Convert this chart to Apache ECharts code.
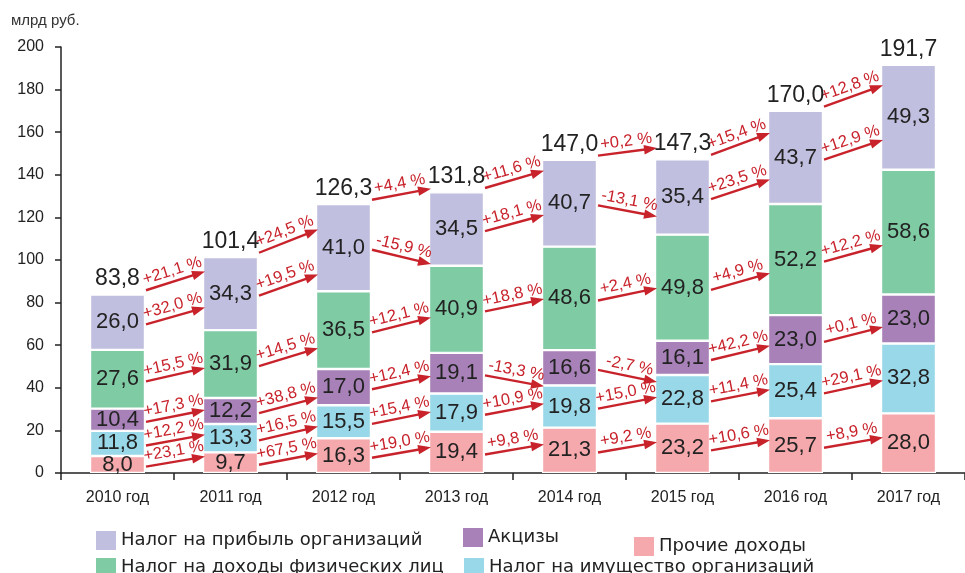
<!DOCTYPE html>
<html>
<head>
<meta charset="utf-8">
<script src="https://cdn.jsdelivr.net/npm/echarts@6/dist/echarts.min.js"></script>
<style>
html,body{margin:0;padding:0;background:#fff;}
#chart{width:965px;height:573px;}
</style>
</head>
<body>
<div id="chart"></div>
<script>
// ---- data ----
const years = ['2010 год', '2011 год', '2012 год', '2013 год', '2014 год', '2015 год', '2016 год', '2017 год'];
const profitTax = [26.0, 34.3, 41.0, 34.5, 40.7, 35.4, 43.7, 49.3];
const personalIncomeTax = [27.6, 31.9, 36.5, 40.9, 48.6, 49.8, 52.2, 58.6];
const excises = [10.4, 12.2, 17.0, 19.1, 16.6, 16.1, 23.0, 23.0];
const propertyTax = [11.8, 13.3, 15.5, 17.9, 19.8, 22.8, 25.4, 32.8];
const otherIncome = [8.0, 9.7, 16.3, 19.4, 21.3, 23.2, 25.7, 28.0];
const totals = [83.8, 101.4, 126.3, 131.8, 147.0, 147.3, 170.0, 191.7];

const totalGrowth = [21.1, 24.5, 4.4, 11.6, 0.2, 15.4, 12.8];
const profitGrowth = [32.0, 19.5, -15.9, 18.1, -13.1, 23.5, 12.9];
const pitGrowth = [15.5, 14.5, 12.1, 18.8, 2.4, 4.9, 12.2];
const exciseGrowth = [17.3, 38.8, 12.4, -13.3, -2.7, 42.2, 0.1];
const propertyGrowth = [12.2, 16.5, 15.4, 10.9, 15.0, 11.4, 29.1];
const otherGrowth = [23.1, 67.5, 19.0, 9.8, 9.2, 10.6, 8.9];

const seriesNames = ['Прочие доходы', 'Налог на имущество организаций', 'Акцизы', 'Налог на доходы физических лиц', 'Налог на прибыль организаций'];
const yMin = 0, yMax = 200, yInterval = 20;

// ---- styles ----
const colors = ['#F5A9AD', '#99D8E8', '#A781B7', '#7FCBA4', '#C1BFDF'];
const RED = '#C8222B';
const BAR_W = 55;
const NUM_FONT = 'Liberation Sans, Arial, sans-serif';
const TXT_FONT = 'DejaVu Sans, sans-serif';

const fmt = v => v.toFixed(1).replace('.', ',');
const fmtPct = v => (v < 0 ? '-' : '+') + Math.abs(v).toFixed(1).replace('.', ',') + ' %';

const stackValues = [otherIncome, propertyTax, excises, personalIncomeTax, profitTax];
const stackGrowth = [otherGrowth, propertyGrowth, exciseGrowth, pitGrowth, profitGrowth];

// arrows: [catIndex, startValue, endValue], with labels
const arrowData = [];
const arrowLabels = [];
for (let s = 0; s < stackValues.length; s++) {
  const centers = years.map((_, i) => {
    let base = 0;
    for (let k = 0; k < s; k++) base += stackValues[k][i];
    return base + stackValues[s][i] / 2;
  });
  for (let i = 0; i < years.length - 1; i++) {
    const g = stackGrowth[s][i];
    const dir = g < 0 ? -1 : 1;
    const a = centers[i] - 1;
    const rise = Math.min(0.25 * Math.abs(centers[i + 1] - centers[i]) + 4.5, 10);
    arrowData.push([i, a, a + dir * rise]);
    arrowLabels.push(fmtPct(g));
  }
}
for (let i = 0; i < years.length - 1; i++) {
  const g = totalGrowth[i];
  const dir = g < 0 ? -1 : 1;
  const a = totals[i] + 2;
  const rise = Math.min(0.3 * Math.abs(totals[i + 1] - totals[i]) + 3.5, 11);
  arrowData.push([i, a, a + dir * rise]);
  arrowLabels.push(fmtPct(g));
}

const barSeries = seriesNames.map((name, s) => ({
  name: name,
  type: 'bar',
  stack: 'total',
  barWidth: BAR_W,
  data: stackValues[s],
  itemStyle: { color: colors[s], borderColor: '#fff', borderWidth: 1.2 },
  label: {
    show: true, position: 'inside', color: '#222',
    fontFamily: NUM_FONT, fontSize: 22,
    formatter: p => fmt(p.value)
  },
  emphasis: { disabled: true },
  z: 2
}));

const arrowSeries = {
  type: 'custom',
  name: 'arrows',
  data: arrowData,
  z: 5,
  silent: true,
  renderItem: function (params, api) {
    const i = api.value(0), a = api.value(1), b = api.value(2);
    const p1 = api.coord([i, a]);
    const p2 = api.coord([i + 1, b]);
    const half = BAR_W / 2;
    const x1 = p1[0] + half + 1, y1 = p1[1];
    const x2 = p2[0] - half + 2, y2 = p2[1];
    const ang = Math.atan2(y2 - y1, x2 - x1);
    const c = Math.cos(ang), sn = Math.sin(ang);
    const hl = 13, hw = 4.8;
    const bx = x2 - hl * c, by = y2 - hl * sn;
    const mx = (x1 + x2) / 2, my = (y1 + y2) / 2;
    return {
      type: 'group',
      children: [
        { type: 'line', shape: { x1: x1, y1: y1, x2: bx + c, y2: by + sn }, style: { stroke: RED, lineWidth: 2.4 } },
        { type: 'polygon', shape: { points: [[x2, y2], [bx + hw * sn, by - hw * c], [bx - hw * sn, by + hw * c]] }, style: { fill: RED } },
        { type: 'text', x: mx, y: my, rotation: -ang,
          style: { text: arrowLabels[params.dataIndex], x: 0, y: -2, align: 'center', verticalAlign: 'bottom',
                   fill: RED, fontSize: 16.5, fontFamily: NUM_FONT } }
      ]
    };
  }
};

const totalSeries = {
  type: 'custom',
  name: 'totals',
  data: totals.map((t, i) => [i, t]),
  z: 6,
  silent: true,
  renderItem: function (params, api) {
    const p = api.coord([api.value(0), api.value(1)]);
    return {
      type: 'text', x: p[0], y: p[1] - 4,
      style: { text: fmt(api.value(1)), align: 'center', verticalAlign: 'bottom',
               fill: '#222', fontSize: 23, fontFamily: NUM_FONT }
    };
  }
};

function legendAt(name, left, top) {
  return {
    data: [name], left: left, top: top, orient: 'horizontal',
    itemWidth: 20, itemHeight: 19, icon: 'rect', selectedMode: false,
    textStyle: { fontFamily: TXT_FONT, fontSize: 18, color: '#222' },
    itemStyle: { borderWidth: 0 }
  };
}

const chart = echarts.init(document.getElementById('chart'), null, { renderer: 'canvas' });
chart.setOption({
  animation: false,
  backgroundColor: '#fff',
  title: {
    text: 'млрд руб.', left: 6, top: 8,
    textStyle: { fontFamily: NUM_FONT, fontSize: 15, fontWeight: 'normal', color: '#333' }
  },
  legend: [
    legendAt(seriesNames[4], 91, 526),
    legendAt(seriesNames[2], 458, 523),
    legendAt(seriesNames[0], 629, 532),
    legendAt(seriesNames[3], 91, 553),
    legendAt(seriesNames[1], 459, 553)
  ],
  grid: { left: 61, top: 47, bottom: 100, width: 908, containLabel: false },
  xAxis: {
    type: 'category', data: years,
    axisLine: { lineStyle: { color: '#222', width: 1.5 } },
    axisTick: { show: true, length: 7, lineStyle: { color: '#222', width: 1.5 } },
    axisLabel: { fontFamily: NUM_FONT, fontSize: 16, color: '#222', margin: 17 }
  },
  yAxis: {
    type: 'value', min: yMin, max: yMax, interval: yInterval,
    axisLine: { show: true, lineStyle: { color: '#222', width: 1.5 } },
    axisTick: { show: true, length: 6, lineStyle: { color: '#222', width: 1.5 } },
    splitLine: { show: false },
    axisLabel: { fontFamily: NUM_FONT, fontSize: 16, color: '#222', margin: 17 }
  },
  series: barSeries.concat([arrowSeries, totalSeries])
});
</script>
</body>
</html>
